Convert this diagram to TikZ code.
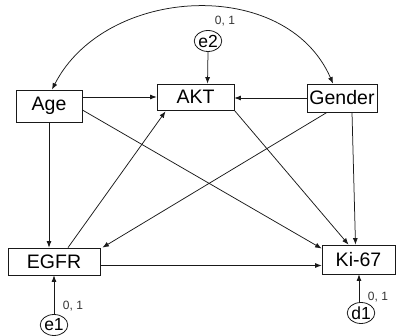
\documentclass[tikz,border=0pt]{standalone}
\usepackage{fontspec}
\setmainfont{Liberation Sans}
\usetikzlibrary{arrows.meta,shapes.geometric,calc}
\tikzset{
  var/.style={draw=black!90, line width=0.8pt, inner sep=0pt, font=\fontsize{19.5}{20}\selectfont},
  err/.style={ellipse, draw=black!90, line width=0.8pt, inner sep=0pt,
              minimum width=25pt, minimum height=21pt, font=\fontsize{17.5}{18}\selectfont},
  par/.style={font=\fontsize{12}{12}\selectfont, text=black!80},
  path/.style={draw=black!90, line width=0.75pt, -{Latex[length=6.5pt,width=5pt]}},
  cov/.style={draw=black!90, line width=0.75pt, {Latex[length=6.5pt,width=5pt]}-{Latex[length=6.5pt,width=5pt]}}
}
\begin{document}
\begin{tikzpicture}[x=1pt,y=1pt]
\useasboundingbox (0,0) rectangle (396,-336);

% observed variables
\node[var, minimum width=66pt, minimum height=32pt] (age)    at (49,-106)    {Age};
\node[var, minimum width=77pt, minimum height=26pt] (akt)    at (195.5,-97)  {AKT};
\node[var, minimum width=70pt, minimum height=28pt] (gender) at (342,-98)    {Gender};
\node[var, minimum width=92pt, minimum height=27pt] (egfr)   at (54,-261.5)  {EGFR};
\node[var, minimum width=73pt, minimum height=29pt] (ki)     at (358.5,-259.5) {Ki-67};

% error terms
\node[err] (e2) at (208,-41)  {e2};
\node[err] (e1) at (54,-325)  {e1};
\node[err] (d1) at (361,-313) {d1};

% parameter labels
\node[par] (p2) at (225,-21)  {0, 1};
\node[par] (p1) at (73,-306)  {0, 1};
\node[par] (pd) at (378,-297) {0, 1};

% covariance between the exogenous variables
\draw[cov] ([xshift=3pt]age.north) .. controls +(53,104) and +(-47,108) .. ([xshift=-9pt]gender.north);

% structural paths
\draw[path] (age.east |- akt.west) -- (akt.west);
\draw[path] (gender.west) -- (akt.east |- gender.west);
\draw[path] (e2.south) -- ([xshift=12pt]akt.north);
\draw[path] (age.south) -- (age.south |- egfr.north);
\draw[path] ([yshift=-4pt]age.east) -- ([yshift=11pt]ki.west);
\draw[path] ([xshift=14pt]egfr.north) -- ([xshift=-30pt,yshift=-1pt]akt.south);
\draw[path] ([xshift=-15pt]gender.south) -- ([xshift=2pt]egfr.north east);
\draw[path] (akt.south east) -- ([xshift=-10pt]ki.north);
\draw[path] ([xshift=10pt]gender.south) -- ([xshift=-3pt]ki.north);
\draw[path] ([yshift=-4pt]egfr.east) -- ([yshift=-6pt]ki.west);
\draw[path] (e1.north) -- (egfr.south);
\draw[path] ([xshift=-2pt]d1.north) -- ([xshift=-2pt]d1.north |- ki.south);
\end{tikzpicture}
\end{document}
